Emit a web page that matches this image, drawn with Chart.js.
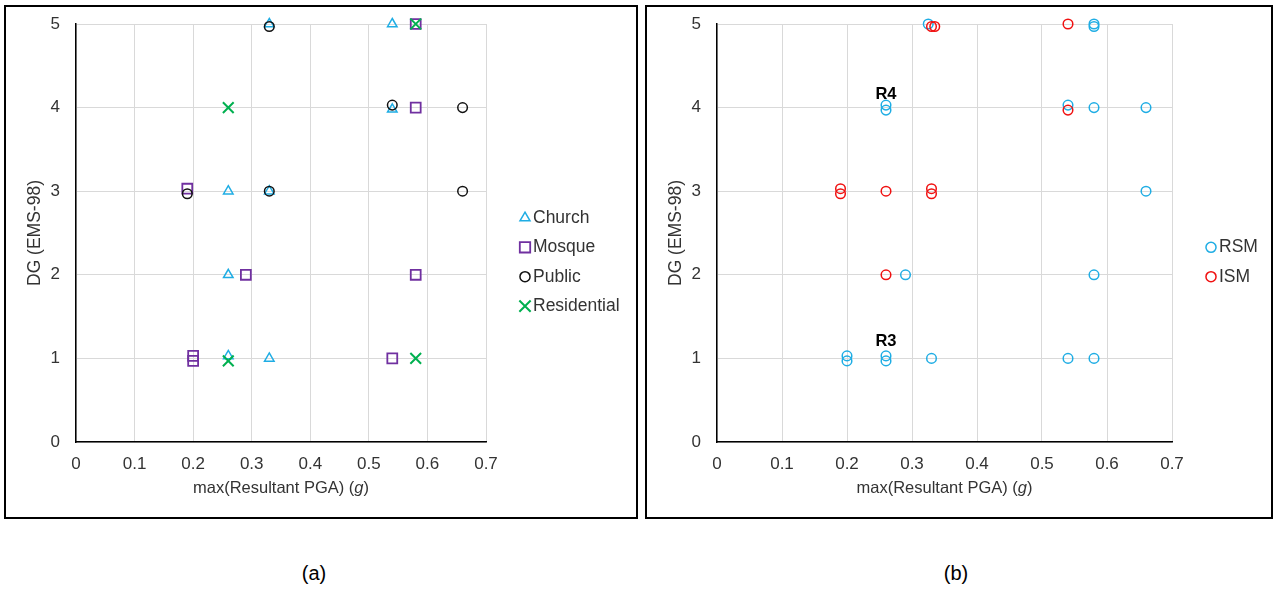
<!DOCTYPE html>
<html>
<head>
<meta charset="utf-8">
<script src="https://cdn.jsdelivr.net/npm/chart.js@4"></script>
<style>
  body { margin: 0; background: #fff; width: 1274px; height: 592px; position: relative; overflow: hidden;
         font-family: "Liberation Sans", Arial, sans-serif; }
  .panel { position: absolute; top: 5px; height: 510px; border: 2px solid #000; }
  #panelA { left: 4px; width: 630px; }
  #panelB { left: 645px; width: 624px; }
  .caption { position: absolute; top: 562px; width: 100px; text-align: center; font-size: 20px; color: #000; }
</style>
</head>
<body>
<div class="panel" id="panelA"><canvas id="chartA" width="630" height="510"></canvas></div>
<div class="panel" id="panelB"><canvas id="chartB" width="624" height="510"></canvas></div>
<div class="caption" style="left:264px">(a)</div>
<div class="caption" style="left:906px">(b)</div>
<script>
// (a) building types
const churchX = [0.33, 0.54, 0.54, 0.26, 0.33, 0.26, 0.26, 0.33];
const churchY = [5.0, 5.0, 3.98, 3.0, 3.0, 2.0, 1.03, 1.0];
const mosqueX = [0.58, 0.58, 0.19, 0.29, 0.58, 0.20, 0.20, 0.54];
const mosqueY = [5.0, 4.0, 3.03, 2.0, 2.0, 1.03, 0.97, 1.0];
const publicX = [0.33, 0.54, 0.66, 0.19, 0.33, 0.66];
const publicY = [4.97, 4.03, 4.0, 2.97, 3.0, 3.0];
const residentialX = [0.58, 0.26, 0.26, 0.58];
const residentialY = [5.0, 4.0, 0.97, 1.0];

// (b) RSM / ISM
const rsmX = [0.325, 0.58, 0.58, 0.26, 0.26, 0.54, 0.58, 0.66, 0.66, 0.29, 0.58, 0.20, 0.20, 0.26, 0.26, 0.33, 0.54, 0.58];
const rsmY = [5.0, 5.0, 4.97, 4.03, 3.97, 4.03, 4.0, 4.0, 3.0, 2.0, 2.0, 1.03, 0.97, 1.03, 0.97, 1.0, 1.0, 1.0];
const ismX = [0.33, 0.335, 0.54, 0.54, 0.19, 0.19, 0.26, 0.33, 0.33, 0.26];
const ismY = [4.97, 4.97, 5.0, 3.97, 3.03, 2.97, 3.0, 3.03, 2.97, 2.0];

// point labels on (b)
const noteText = ["R4", "R3"];
const noteX = [0.26, 0.26];
const noteY = [4.16, 1.2];

const BLUE = "#1FADE4";
const FONT = '"Liberation Sans", Arial, sans-serif';

Chart.defaults.font.family = FONT;
Chart.defaults.font.size = 17;
Chart.defaults.color = "#333";

function pts(xs, ys) {
  return xs.map((x, i) => ({ x: x, y: ys[i] }));
}

function series(label, xs, ys, style, radius, color, width, order) {
  return {
    label: label,
    data: pts(xs, ys),
    pointStyle: style,
    pointRadius: radius,
    pointHoverRadius: radius,
    pointBorderColor: color,
    pointBackgroundColor: "rgba(0,0,0,0)",
    pointBorderWidth: width,
    borderColor: color,
    order: order,
    clip: false,
  };
}

// axis titles, legend and labels drawn next to the plot
const sidePlugin = {
  id: "side",
  afterDraw(chart) {
    const { ctx, chartArea, scales } = chart;
    const midX = (chartArea.left + chartArea.right) / 2;
    const midY = (chartArea.top + chartArea.bottom) / 2;

    ctx.save();
    ctx.fillStyle = "#333";
    ctx.font = "17.5px " + FONT;
    ctx.textAlign = "center";
    ctx.textBaseline = "middle";
    ctx.translate(chartArea.left - 41, midY);
    ctx.rotate(-Math.PI / 2);
    ctx.fillText("DG (EMS-98)", 0, 0);
    ctx.restore();

    // x title, with italic g
    ctx.save();
    ctx.fillStyle = "#333";
    ctx.textBaseline = "middle";
    ctx.textAlign = "left";
    const a = "max(Resultant PGA) (", g = "g", b = ")";
    ctx.font = "16.5px " + FONT;
    const wa = ctx.measureText(a).width, wb = ctx.measureText(b).width;
    ctx.font = "italic 16.5px " + FONT;
    const wg = ctx.measureText(g).width;
    let x = midX - (wa + wg + wb) / 2;
    const y = chartArea.bottom + 46;
    ctx.font = "16.5px " + FONT;
    ctx.fillText(a, x, y);
    ctx.font = "italic 16.5px " + FONT;
    ctx.fillText(g, x + wa, y);
    ctx.font = "16.5px " + FONT;
    ctx.fillText(b, x + wa + wg, y);
    ctx.restore();

    // legend
    const sets = chart.data.datasets;
    const n = sets.length;
    const gap = 29.4;
    ctx.save();
    sets.forEach((ds, i) => {
      const ly = chart.height / 2 + (i - (n - 1) / 2) * gap;
      const lx = chartArea.right + 39;
      ctx.strokeStyle = ds.pointBorderColor;
      ctx.fillStyle = "rgba(0,0,0,0)";
      ctx.lineWidth = ds.pointBorderWidth;
      Chart.helpers.drawPoint(ctx, { pointStyle: ds.pointStyle, rotation: 0, radius: ds.pointRadius * 1.05, borderWidth: ds.pointBorderWidth }, lx, ly);
      ctx.fillStyle = "#333";
      ctx.font = "17.5px " + FONT;
      ctx.textAlign = "left";
      ctx.textBaseline = "middle";
      ctx.fillText(ds.label, chartArea.right + 47, ly);
    });
    ctx.restore();

    const notes = chart.options.plugins.side.notes;
    if (notes) {
      ctx.save();
      ctx.fillStyle = "#000";
      ctx.font = "bold 16.5px " + FONT;
      ctx.textAlign = "center";
      ctx.textBaseline = "middle";
      notes.text.forEach((t, i) => {
        ctx.fillText(t, scales.x.getPixelForValue(notes.x[i]), scales.y.getPixelForValue(notes.y[i]));
      });
      ctx.restore();
    }
  },
};

function makeOptions(padRight, notes) {
  return {
    responsive: false,
    animation: false,
    events: [],
    layout: { padding: { top: 17, right: padRight, left: 0, bottom: 0 } },
    plugins: {
      legend: { display: false },
      tooltip: { enabled: false },
      side: { notes: notes },
    },
    scales: {
      x: {
        type: "linear",
        min: 0,
        max: 0.7,
        ticks: {
          stepSize: 0.1,
          padding: 12,
          maxRotation: 0,
          autoSkip: false,
          callback: (v) => String(Math.round(v * 10) / 10),
        },
        grid: { color: "#d9d9d9", drawTicks: false },
        border: { color: "#000", width: 1.5 },
        afterFit: (s) => { s.height = 75; },
      },
      y: {
        min: 0,
        max: 5,
        ticks: { stepSize: 1, padding: 16 },
        grid: { color: "#d9d9d9", drawTicks: false },
        border: { color: "#000", width: 1.5 },
        afterFit: (s) => {
          s.width = 70;
          s.paddingTop = 0;
          s.paddingBottom = 0;
        },
      },
    },
  };
}

new Chart(document.getElementById("chartA"), {
  type: "scatter",
  data: {
    datasets: [
      series("Church", churchX, churchY, "triangle", 5.5, BLUE, 1.5, 4),
      series("Mosque", mosqueX, mosqueY, "rect", 7, "#7030A0", 1.8, 3),
      series("Public", publicX, publicY, "circle", 4.8, "#111", 1.5, 2),
      series("Residential", residentialX, residentialY, "crossRot", 7.6, "#00B050", 2, 1),
    ],
  },
  options: makeOptions(150, null),
  plugins: [sidePlugin],
});

new Chart(document.getElementById("chartB"), {
  type: "scatter",
  data: {
    datasets: [
      series("RSM", rsmX, rsmY, "circle", 4.8, BLUE, 1.5, 2),
      series("ISM", ismX, ismY, "circle", 4.8, "#F01010", 1.5, 1),
    ],
  },
  options: makeOptions(99, { text: noteText, x: noteX, y: noteY }),
  plugins: [sidePlugin],
});
</script>
</body>
</html>
